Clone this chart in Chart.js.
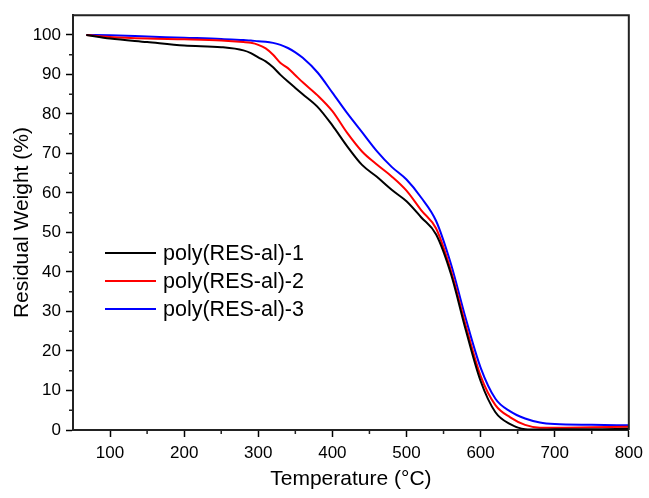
<!DOCTYPE html>
<html lang="en">
  <head>
    <meta charset="UTF-8" />
    <title>TGA curves</title>
    <style>
      body {
        margin: 0;
        background: #fff;
      }
      canvas {
        display: block;
      }
    </style>
    <script src="https://cdn.jsdelivr.net/npm/chart.js"></script>
  </head>
  <body>
    <canvas id="chart" width="649" height="498"></canvas>
    <script>
      const temps = [68, 100, 150, 200, 250, 280, 290, 300, 310, 320, 330, 340, 350, 360, 380, 400, 420, 440, 460, 480, 500, 520, 540, 560, 580, 600, 620, 640, 660, 680, 700, 750, 800];
      // residual weight (%)
      const poly1 = [100, 99.1, 98.2, 97.3, 96.9, 96.1, 95.4, 94.3, 93.3, 91.8, 89.9, 88.2, 86.6, 85.0, 81.8, 77.1, 71.8, 67.1, 64.1, 60.8, 57.9, 53.8, 49.5, 39.5, 25.3, 12.4, 4.5, 1.5, 0.2, 0.1, 0.2, 0.2, 0.3];
      const poly2 = [100, 99.5, 99.1, 98.9, 98.6, 98.2, 98.0, 97.5, 96.6, 95.0, 92.9, 91.6, 89.8, 88.0, 84.7, 80.7, 75.2, 70.5, 67.2, 64.2, 60.6, 55.6, 51.0, 40.3, 26.4, 13.7, 6.3, 3.2, 1.3, 0.6, 0.6, 0.7, 0.8];
      const poly3 = [100, 99.9, 99.6, 99.3, 99.0, 98.7, 98.6, 98.4, 98.3, 98.0, 97.5, 96.7, 95.6, 94.2, 90.5, 85.4, 80.2, 75.4, 70.6, 66.6, 63.4, 58.8, 52.9, 42.0, 28.2, 15.8, 7.9, 4.7, 2.9, 1.9, 1.5, 1.3, 1.2];
      const seriesNames = ["poly(RES-al)-1", "poly(RES-al)-2", "poly(RES-al)-3"];
      const seriesColors = ["#000000", "#ff0000", "#0000ff"];

      const xTicks = [100, 200, 300, 400, 500, 600, 700, 800];
      const xMinor = [150, 250, 350, 450, 550, 650, 750];
      const yTicks = [0, 10, 20, 30, 40, 50, 60, 70, 80, 90, 100];
      const yMinor = [5, 15, 25, 35, 45, 55, 65, 75, 85, 95];

      const FONT = "'Liberation Sans', Arial, sans-serif";

      function toPoints(ys) {
        return temps.map((t, i) => ({ x: t, y: ys[i] }));
      }

      // frame on top/right plus the short minor ticks
      const framePlugin = {
        id: "frame",
        afterDraw(chart) {
          const { ctx, chartArea: a, scales } = chart;
          ctx.save();
          ctx.strokeStyle = "#222";
          ctx.lineWidth = 2;
          ctx.beginPath();
          ctx.moveTo(a.left, a.top);
          ctx.lineTo(a.right, a.top);
          ctx.lineTo(a.right, a.bottom);
          ctx.stroke();

          ctx.lineWidth = 1.5;
          ctx.beginPath();
          for (const v of xMinor) {
            const px = scales.x.getPixelForValue(v);
            ctx.moveTo(px, a.bottom);
            ctx.lineTo(px, a.bottom + 4);
          }
          for (const v of yMinor) {
            const py = scales.y.getPixelForValue(v);
            ctx.moveTo(a.left, py);
            ctx.lineTo(a.left - 4, py);
          }
          ctx.stroke();
          ctx.restore();
        },
      };

      // legend drawn inside the plot, lower left
      const legendPlugin = {
        id: "insideLegend",
        afterDraw(chart) {
          const { ctx } = chart;
          ctx.save();
          ctx.font = "21.5px " + FONT;
          ctx.textBaseline = "middle";
          ctx.fillStyle = "#000";
          chart.data.datasets.forEach((ds, i) => {
            const y = 253 + i * 28;
            ctx.strokeStyle = ds.borderColor;
            ctx.lineWidth = 2;
            ctx.beginPath();
            ctx.moveTo(105, y);
            ctx.lineTo(156, y);
            ctx.stroke();
            ctx.fillText(ds.label, 163, y + 1);
          });
          ctx.restore();
        },
      };

      const datasets = [poly1, poly2, poly3].map((ys, i) => ({
        label: seriesNames[i],
        data: toPoints(ys),
        borderColor: seriesColors[i],
        backgroundColor: seriesColors[i],
        borderWidth: 2,
        pointRadius: 0,
        cubicInterpolationMode: "monotone",
        fill: false,
      }));

      new Chart(document.getElementById("chart"), {
        type: "line",
        data: { datasets: datasets },
        options: {
          responsive: false,
          animation: false,
          layout: { padding: { top: 15, right: 15, left: 0, bottom: 0 } },
          plugins: {
            legend: { display: false },
            tooltip: { enabled: false },
          },
          scales: {
            x: {
              type: "linear",
              min: 50,
              max: 800,
              afterBuildTicks: (s) => {
                s.ticks = xTicks.map((v) => ({ value: v }));
              },
              afterFit: (s) => {
                s.height = 68;
              },
              grid: {
                drawOnChartArea: false,
                drawTicks: true,
                tickLength: 7,
                tickWidth: 1.5,
                tickColor: "#000",
              },
              border: { display: true, color: "#222", width: 2 },
              ticks: {
                color: "#000",
                padding: 6,
                maxRotation: 0,
                font: { family: FONT, size: 17 },
              },
              title: {
                display: true,
                text: "Temperature (°C)",
                color: "#000",
                font: { family: FONT, size: 21 },
                padding: { top: 0, bottom: 6 },
              },
            },
            y: {
              min: 0,
              max: 105,
              afterBuildTicks: (s) => {
                s.ticks = yTicks.map((v) => ({ value: v }));
              },
              afterFit: (s) => {
                s.width = 73;
              },
              grid: {
                drawOnChartArea: false,
                drawTicks: true,
                tickLength: 7,
                tickWidth: 1.5,
                tickColor: "#000",
              },
              border: { display: true, color: "#222", width: 2 },
              ticks: {
                color: "#000",
                padding: 5,
                font: { family: FONT, size: 17 },
              },
              title: {
                display: true,
                text: "Residual Weight (%)",
                color: "#000",
                font: { family: FONT, size: 21 },
                padding: { top: 10, bottom: 0 },
              },
            },
          },
        },
        plugins: [framePlugin, legendPlugin],
      });
    </script>
  </body>
</html>
